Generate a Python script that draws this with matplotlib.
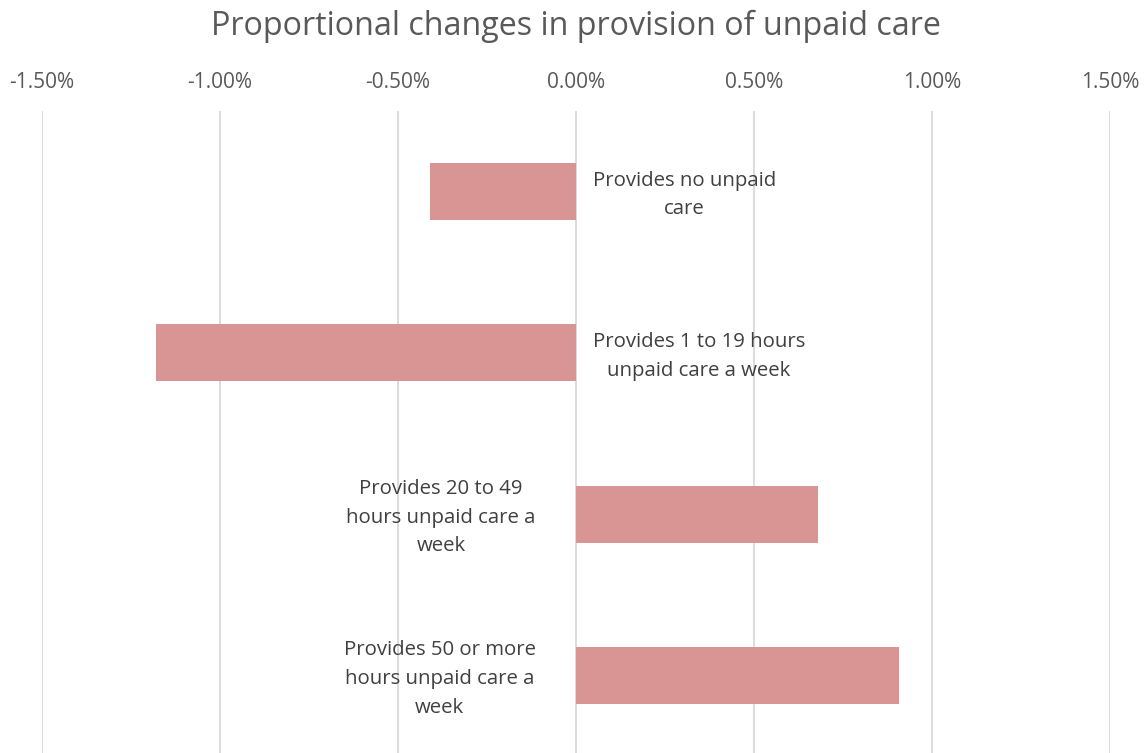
import matplotlib
matplotlib.use("Agg")
import matplotlib.pyplot as plt
from matplotlib.ticker import FuncFormatter

categories = [
    "Provides no unpaid\ncare",
    "Provides 1 to 19 hours\nunpaid care a week",
    "Provides 20 to 49\nhours unpaid care a\nweek",
    "Provides 50 or more\nhours unpaid care a\nweek",
]
values = [-0.41, -1.18, 0.68, 0.907]  # percent
xticks = [-1.5, -1.0, -0.5, 0.0, 0.5, 1.0, 1.5]

W, H = 1147, 753
fig = plt.figure(figsize=(W / 100, H / 100), dpi=100)
left, right, top, bottom = 42, 1110, 111, 753
ax = fig.add_axes([left / W, 1 - bottom / H, (right - left) / W, (bottom - top) / H])

band = 161.3
ypos = list(range(len(categories)))
ax.barh(ypos, values, height=57 / band, color="#D99594", zorder=3)

font = "Open Sans"
ax.set_xlim(-1.5, 1.5)
ax.set_ylim((bottom - top) / band - 0.5, -0.5)
ax.set_xticks(xticks)
ax.xaxis.set_major_formatter(FuncFormatter(lambda v, p: f"{v:.2f}%"))
ax.xaxis.tick_top()
ax.tick_params(axis="x", length=0, pad=13, labelsize=15, labelcolor="#595959")
ax.set_yticks([])
ax.grid(axis="x", color="#D9D9D9", linewidth=1.3, zorder=0)
for s in ax.spines.values():
    s.set_visible(False)

for lab in ax.get_xticklabels():
    lab.set_fontfamily(font)

for i, (cat, v) in enumerate(zip(categories, values)):
    if v < 0:
        ax.annotate(cat, xy=(0, i), xytext=(12, -2.5), textcoords="offset points",
                    ha="left", va="center", multialignment="center",
                    fontsize=14.7, color="#404040", family=font, linespacing=1.58)
    else:
        ax.annotate(cat, xy=(0, i), xytext=(-29, -2.5), textcoords="offset points",
                    ha="right", va="center", multialignment="center",
                    fontsize=14.7, color="#404040", family=font, linespacing=1.58)

fig.text(0.5 * (left + right) / W, 1 - 26 / H, "Proportional changes in provision of unpaid care",
         ha="center", va="center", fontsize=23.2, color="#595959", family=font)

fig.savefig("out.png", dpi=100)
